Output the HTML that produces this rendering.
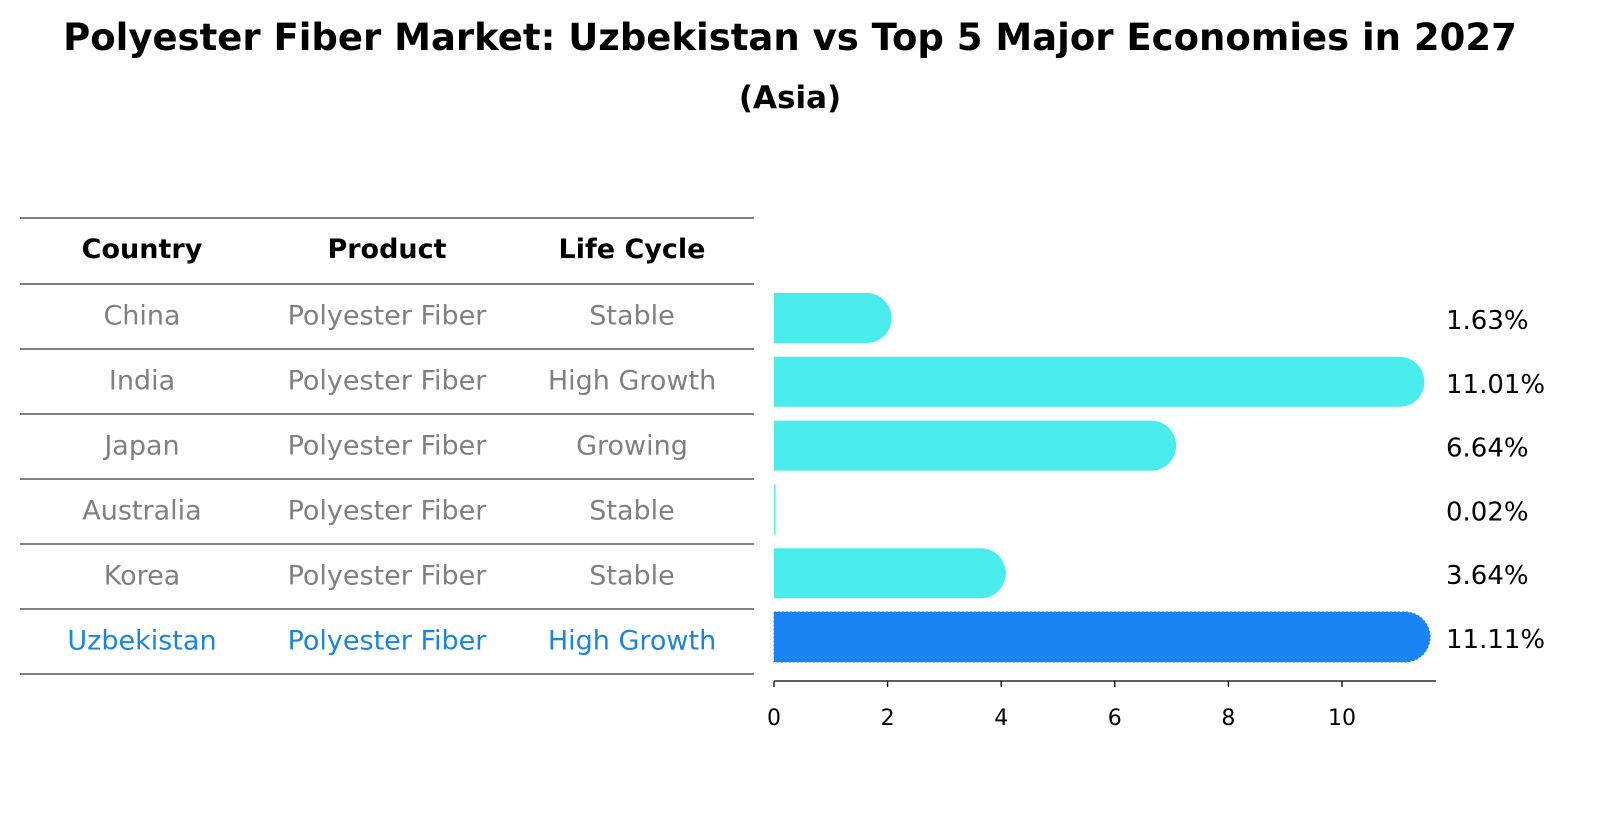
<!DOCTYPE html>
<html><head><meta charset="utf-8">
<style>
html,body{margin:0;padding:0;background:#fff;overflow:hidden;width:1604px;height:823px;}
svg{display:block;}
svg text{font-family:"DejaVu Sans","Liberation Sans",sans-serif;}
</style></head>
<body>
<svg width="1604" height="823" viewBox="0 0 1604 823" xmlns="http://www.w3.org/2000/svg">
<text x="790" y="50" text-anchor="middle" font-size="37" font-weight="bold">Polyester Fiber Market: Uzbekistan vs Top 5 Major Economies in 2027</text>
<text x="790" y="108" text-anchor="middle" font-size="31" font-weight="bold">(Asia)</text>
<g id="table"></g>
<g id="bars"></g>
</svg>
<script>
const countries=["China","India","Japan","Australia","Korea","Uzbekistan"];
const products=["Polyester Fiber","Polyester Fiber","Polyester Fiber","Polyester Fiber","Polyester Fiber","Polyester Fiber"];
const lifeCycles=["Stable","High Growth","Growing","Stable","Stable","High Growth"];
const values=[1.63,11.01,6.64,0.02,3.64,11.11];
const ticks=[0,2,4,6,8,10];
const NS="http://www.w3.org/2000/svg";
const tbl=document.getElementById('table'), bars=document.getElementById('bars');
function mk(tag,attrs,parent,txt){const e=document.createElementNS(NS,tag);for(const k in attrs)e.setAttribute(k,attrs[k]);if(txt!==undefined)e.textContent=txt;parent.appendChild(e);return e;}
const x=v=>774+v*56.8;
const rowTop=i=>284+i*65;
const rowMid=i=>rowTop(i)+32.5;
for(let i=0;i<=7;i++){const y=i==0?218:rowTop(i-1);
 const l=mk('line',{x1:20,x2:754,y1:y,y2:y,stroke:'#000','stroke-width':1},tbl);
 
 }
const cols=[142,387,632];
["Country","Product","Life Cycle"].forEach((h,j)=>{
 const t=mk('text',{x:cols[j],y:258,'text-anchor':'middle','font-size':27,'font-weight':'bold'},tbl,h);
 
 });
countries.forEach((c,i)=>{
 const col=i==countries.length-1?'#1a84e0':'#808080';
 [c,products[i],lifeCycles[i]].forEach((v,j)=>{
  const t=mk('text',{x:cols[j],y:rowMid(i)+8,'text-anchor':'middle','font-size':27,fill:col},tbl,v);
  
  });
});
const cy=i=>318+i*63.8;
values.forEach((v,i)=>{
 const isU=i==values.length-1;
 const col=isU?'#1a84f5':'#4aeceb';
 const h=50,r=25,c=cy(i),w=x(v)-x(0);
 let d;
 if(w<3){d=`M${x(0)},${c-h/2}h${Math.max(w,1.5)}v${h}h${-Math.max(w,1.5)}z`;}
 else d=`M${x(0)},${c-h/2}H${x(v)}A${r},${r} 0 0 1 ${x(v)},${c+h/2}H${x(0)}Z`;
 const p=mk('path',{d:d,fill:col},bars);
 if(isU){p.setAttribute('stroke','#1a6ee0');p.setAttribute('stroke-dasharray','2,2');}
 
 
 const t=mk('text',{x:1446,y:c+11,'font-size':26},bars,v.toFixed(2)+'%');
 
 
});
const ax=mk('line',{x1:774,x2:1436,y1:681,y2:681,stroke:'#000','stroke-width':1.3},bars);


ticks.forEach(tv=>{
 const l=mk('line',{x1:x(tv),x2:x(tv),y1:681,y2:687,stroke:'#000','stroke-width':1.3},bars);
 
 
 const t=mk('text',{x:x(tv),y:725,'text-anchor':'middle','font-size':22},bars,String(tv));
 
 
});
</script>
</body></html>
